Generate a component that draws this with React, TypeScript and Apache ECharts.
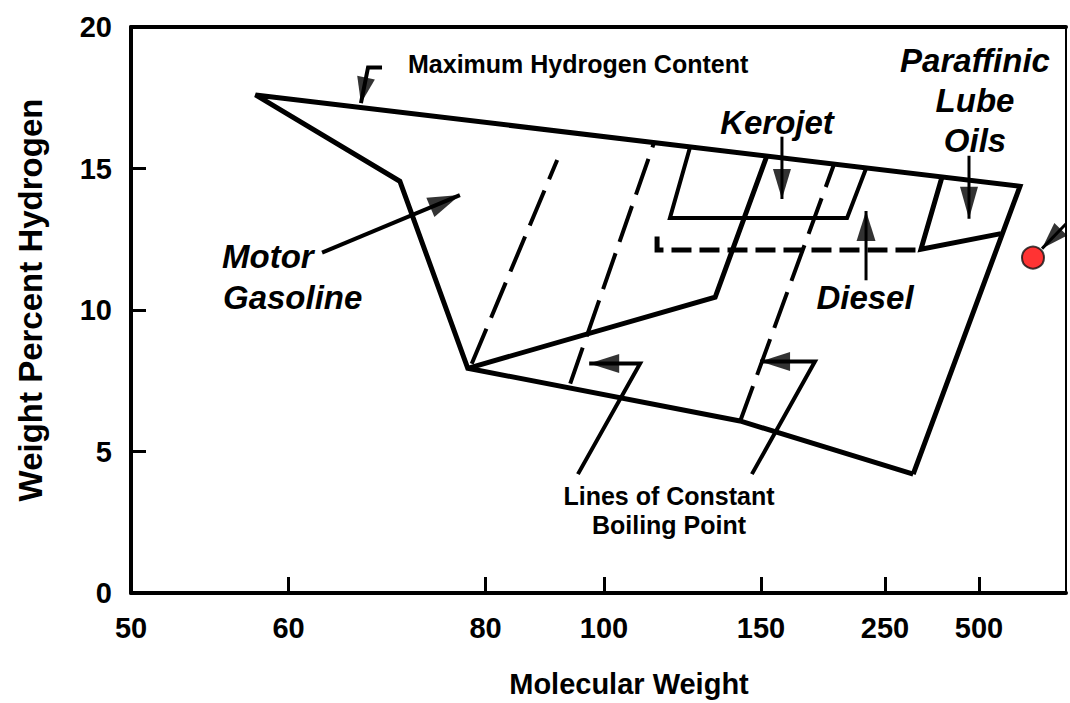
import React, { useEffect, useRef } from "react";
import * as echarts from "echarts";

// ---- x scale: molecular weight tick labels and their place along the axis (axis units) ----
const tickMW = [50, 60, 80, 100, 150, 250, 500];
const tickPos = [0, 157.6, 354.5, 473, 630, 754, 848];
const X_MAX = 935;

// ---- data (molecular weight, weight percent hydrogen) ----
const outlineMW = [325, 143.3, 78.2, 71.3, 57.9, 609, 325];
const outlineH = [4.2, 6.08, 7.94, 14.55, 17.6, 14.37, 4.2];

const keroLineMW = [78.2, 135.4, 154.8];
const keroLineH = [7.94, 10.45, 15.45];

const keroBoxMW = [127.4, 121, 219.4, 234.7];
const keroBoxH = [15.75, 13.25, 13.25, 15.0];

const dieselMW = [116.9, 116.9, 345.7];
const dieselH = [12.6, 12.12, 12.12];

const lubeMW = [401.6, 345.7, 558.5];
const lubeH = [14.7, 12.15, 12.7];

const bp1MW = [78.6, 92.1];
const bp1H = [8.1, 15.3];
const bp2MW = [94.3, 115.9];
const bp2H = [7.4, 15.9];
const bp3MW = [143.3, 208.9];
const bp3H = [6.05, 15.15];

// annotation arrows (last point = arrow tip)
const maxHArrowMW = [69.49, 68.07, 67.35];
const maxHArrowH = [18.57, 18.57, 17.31];
const motorArrowMW = [63.4, 77.4];
const motorArrowH = [12.03, 14.06];
const keroArrowMW = [166.9, 166.9];
const keroArrowH = [16.12, 13.92];
const lubeArrowMW = [473.4, 473.4];
const lubeArrowH = [15.45, 13.22];
const dieselArrowMW = [234.7, 234.7];
const dieselArrowH = [11.05, 13.5];
const bpArrow1MW = [95.6, 111.5, 97.5];
const bpArrow1H = [4.2, 8.11, 8.11];
const bpArrow2MW = [147.1, 193.5, 149.7];
const bpArrow2H = [4.2, 8.18, 8.18];
const redArrowMW = [731, 667.6];
const redArrowH = [13.04, 12.17];

const redDotMW = [643.6];
const redDotH = [11.85];

const yTicks = [0, 5, 10, 15, 20];

function mwToPos(mw: number): number {
  const n = tickMW.length;
  for (let i = 0; i < n - 1; i++) {
    if (mw <= tickMW[i + 1] || i === n - 2) {
      const t = (mw - tickMW[i]) / (tickMW[i + 1] - tickMW[i]);
      return tickPos[i] + t * (tickPos[i + 1] - tickPos[i]);
    }
  }
  return 0;
}

const FONT = '"Liberation Sans", Arial, Helvetica, sans-serif';

function pts(mw: number[], h: number[]) {
  return mw.map((m, i) => [mwToPos(m), h[i]]);
}

function lineSeries(mw: number[], h: number[], width: number, type: any = "solid") {
  return {
    type: "line",
    data: pts(mw, h),
    symbol: "none",
    silent: true,
    animation: false,
    lineStyle: { color: "#000", width, type, join: "miter" },
    z: 3,
  };
}

const arrows = [
  { mw: maxHArrowMW, h: maxHArrowH, width: 4, head: [18, 26] },
  { mw: motorArrowMW, h: motorArrowH, width: 4, head: [21, 32] },
  { mw: keroArrowMW, h: keroArrowH, width: 3, head: [18, 30] },
  { mw: lubeArrowMW, h: lubeArrowH, width: 3, head: [18, 32] },
  { mw: dieselArrowMW, h: dieselArrowH, width: 3, head: [19, 30] },
  { mw: bpArrow1MW, h: bpArrow1H, width: 4, head: [19, 30] },
  { mw: bpArrow2MW, h: bpArrow2H, width: 4, head: [19, 30] },
  { mw: redArrowMW, h: redArrowH, width: 3, head: [18, 27] },
];

function label(text: string, x: number, y: number, size: number, italic: boolean, align = "center") {
  return {
    type: "text",
    x,
    y,
    silent: true,
    z: 10,
    style: {
      text,
      fill: "#000",
      fontSize: size,
      fontWeight: "bold",
      fontStyle: italic ? "italic" : "normal",
      fontFamily: FONT,
      align,
      verticalAlign: "middle",
      textAlign: align,
      textVerticalAlign: "middle",
    },
  };
}

export default function App() {
  const ref = useRef<HTMLDivElement>(null);

  useEffect(() => {
    if (!ref.current) return;
    const chart = echarts.init(ref.current, undefined, { renderer: "svg" });
    const axisText = { color: "#000", fontSize: 29, fontWeight: "bold", fontFamily: FONT };

    const baseSeries: any[] = [
      lineSeries(outlineMW, outlineH, 5),
      lineSeries(keroLineMW, keroLineH, 5),
      lineSeries(keroBoxMW, keroBoxH, 4),
      lineSeries(dieselMW, dieselH, 5, [20, 8]),
      lineSeries(lubeMW, lubeH, 5),
      lineSeries(bp1MW, bp1H, 4, [38, 12]),
      lineSeries(bp2MW, bp2H, 4, [38, 12]),
      lineSeries(bp3MW, bp3H, 4, [38, 12]),
      ...arrows.map((a) => lineSeries(a.mw, a.h, a.width)),
      {
        type: "scatter",
        data: pts(redDotMW, redDotH),
        symbol: "circle",
        symbolSize: 22,
        silent: true,
        itemStyle: { color: "#ff0000", borderColor: "#111", borderWidth: 2 },
        z: 6,
      },
    ];

    chart.setOption({
      animation: false,
      backgroundColor: "#fff",
      grid: { left: 131, right: 4, top: 27, bottom: 104, containLabel: false },
      xAxis: [
        {
          type: "value",
          min: 0,
          max: X_MAX,
          name: "Molecular Weight",
          nameLocation: "middle",
          nameGap: 76,
          nameMoveOverlap: false,
          nameTextStyle: { ...axisText, padding: [0, 0, 0, 61] },
          axisLine: { show: true, onZero: false, lineStyle: { color: "#000", width: 4 } },
          axisTick: { show: true, inside: true, length: 16, customValues: tickPos, lineStyle: { color: "#000", width: 3 } },
          axisLabel: {
            ...axisText,
            margin: 20,
            customValues: tickPos,
            showMinLabel: true,
            showMaxLabel: true,
            formatter: (v: number) => {
              const i = tickPos.findIndex((p) => Math.abs(p - v) < 0.01);
              return i >= 0 ? String(tickMW[i]) : "";
            },
          },
          splitLine: { show: false },
        },
        {
          type: "value",
          position: "top",
          min: 0,
          max: X_MAX,
          axisLine: { show: true, onZero: false, lineStyle: { color: "#000", width: 4 } },
          axisTick: { show: false },
          axisLabel: { show: false },
          splitLine: { show: false },
        },
      ],
      yAxis: [
        {
          type: "value",
          min: yTicks[0],
          max: yTicks[yTicks.length - 1],
          interval: 5,
          name: "Weight Percent Hydrogen",
          nameLocation: "middle",
          nameGap: 84,
          nameMoveOverlap: false,
          nameTextStyle: { ...axisText, fontSize: 33, padding: [0, 0, 0, 20] },
          axisLine: { show: true, onZero: false, lineStyle: { color: "#000", width: 4 } },
          axisTick: { show: true, inside: true, length: 15, lineStyle: { color: "#000", width: 3 } },
          axisLabel: { ...axisText, margin: 19 },
          splitLine: { show: false },
        },
        {
          type: "value",
          position: "right",
          min: 0,
          max: 20,
          axisLine: { show: true, onZero: false, lineStyle: { color: "#000", width: 2 } },
          axisTick: { show: false },
          axisLabel: { show: false },
          splitLine: { show: false },
        },
      ],
      series: baseSeries,
      graphic: [
        label("Maximum Hydrogen Content", 408, 64, 25, false, "left"),
        label("Kerojet", 777, 122, 33, true),
        label("Paraffinic", 975, 60, 33, true),
        label("Lube", 975, 100, 33, true),
        label("Oils", 975, 140, 33, true),
        label("Diesel", 865, 297, 33, true),
        label("Motor", 222, 256, 33, true, "left"),
        label("Gasoline", 223, 297, 33, true, "left"),
        label("Lines of Constant", 669, 496, 25, false),
        label("Boiling Point", 669, 525, 25, false),
      ],
    });

    // arrowheads: triangles placed through the chart's own scales, pointing along the last segment
    const finder = { gridIndex: 0 };
    const heads = arrows.map((a) => {
      const p = pts(a.mw, a.h);
      const tip = chart.convertToPixel(finder, p[p.length - 1]) as number[];
      const prev = chart.convertToPixel(finder, p[p.length - 2]) as number[];
      const dx = tip[0] - prev[0];
      const dy = tip[1] - prev[1];
      const len = Math.hypot(dx, dy) || 1;
      const ux = dx / len;
      const uy = dy / len;
      const headLen = a.head[1];
      const c = [tip[0] - (ux * headLen) / 2, tip[1] - (uy * headLen) / 2];
      const cData = chart.convertFromPixel(finder, c) as number[];
      const rot = (Math.atan2(-uy, ux) * 180) / Math.PI - 90;
      return { value: cData, symbolSize: [a.head[0], headLen], symbolRotate: rot };
    });

    chart.setOption({
      series: [
        ...baseSeries,
        {
          type: "scatter",
          data: heads,
          symbol: "triangle",
          silent: true,
          clip: false,
          itemStyle: { color: "#000" },
          z: 5,
        },
      ],
    });

    return () => chart.dispose();
  }, []);

  return (
    <div
      ref={ref}
      style={{ position: "absolute", left: 0, top: 0, width: 1070, height: 703, background: "#fff" }}
    />
  );
}
